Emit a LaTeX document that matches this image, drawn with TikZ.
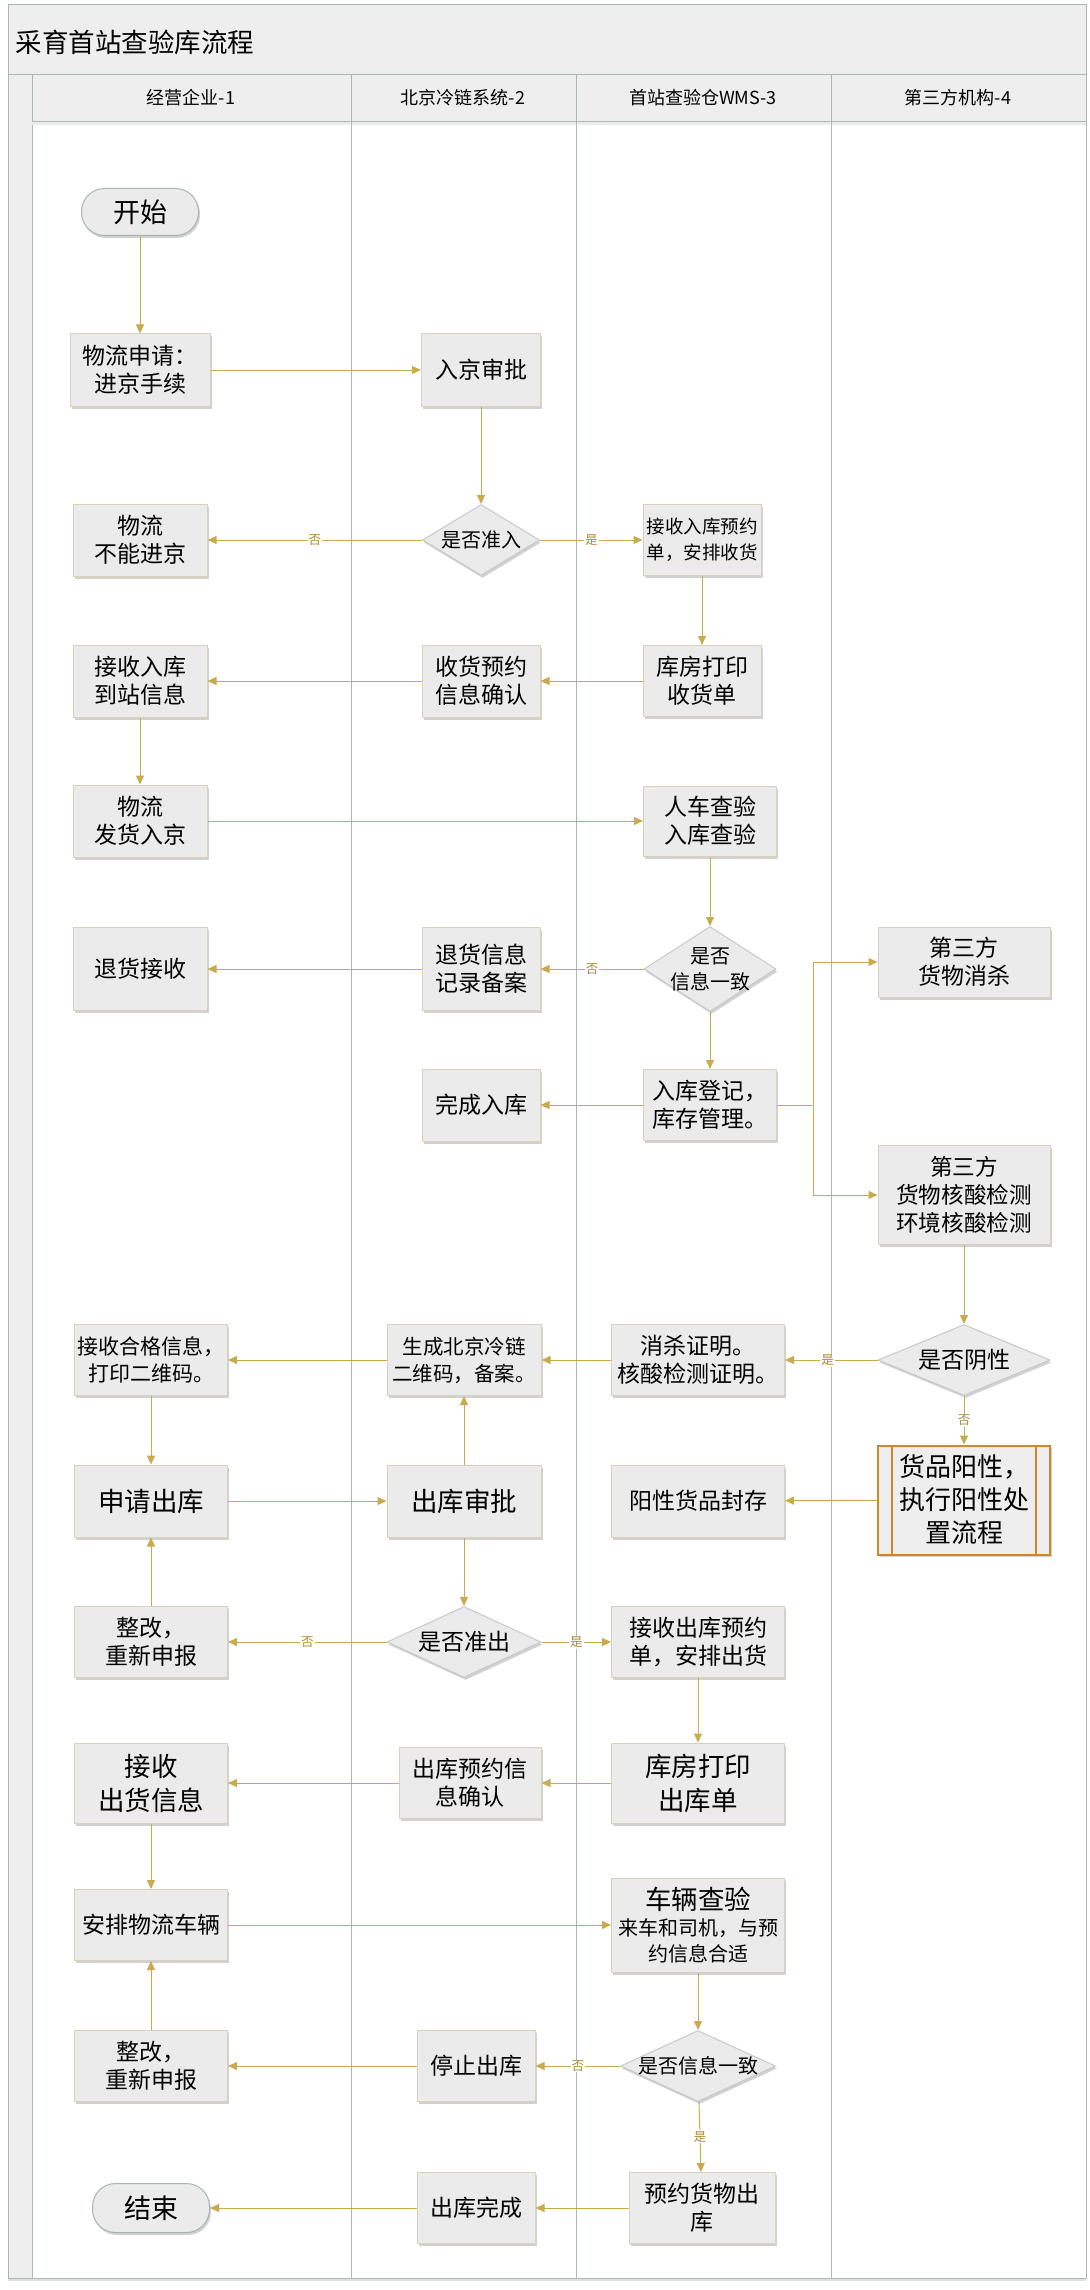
\documentclass[tikz,border=0pt]{standalone}
\usepackage{fontspec}
\setmainfont{Noto Sans CJK SC}
\usetikzlibrary{arrows.meta,shapes.geometric,shadows}

\definecolor{flowgold}{HTML}{C9AA4F}
\definecolor{lblgold}{HTML}{A88A30}
\definecolor{boxfill}{HTML}{EBEBEB}
\definecolor{boxline}{HTML}{D8D2BC}
\definecolor{dialine}{HTML}{C4CACA}
\definecolor{termline}{HTML}{A8B3B3}
\definecolor{laneline}{HTML}{A9B8B6}
\definecolor{headfill}{HTML}{EEEEEE}
\definecolor{procorange}{HTML}{D0872B}
\newcommand{\fsz}[2]{\fontsize{#1}{#2}\selectfont}

\begin{document}
\begin{tikzpicture}[x=1pt, y=-1pt, >={Triangle[length=9pt,width=8pt]},
  frame/.style={draw=laneline, line width=1pt},
  shade/.style={drop shadow={shadow xshift=1.5pt, shadow yshift=-2.5pt, fill=black, opacity=0.18}},
  box/.style={draw=boxline, fill=boxfill, line width=1pt, align=center, inner sep=2pt, font=\fsz{23}{28}, shade},
  bigbox/.style={box, font=\fsz{26.5}{34}},
  term/.style={box, draw=termline, rounded corners=23pt, font=\fsz{27}{32}},
  decision/.style={diamond, draw=dialine, fill=boxfill, line width=1pt, inner sep=0pt, shade},
  dtext/.style={align=center, font=\fsz{20}{26}},
  proc/.style={box, draw=procorange, line width=2pt, fill=headfill, font=\fsz{26}{33}},
  flow/.style={->, draw=flowgold, line width=1pt},
  lbl/.style={fill=white, text=lblgold, font=\fsz{12.5}{14}, inner sep=1pt},
  headtxt/.style={font=\fsz{18}{22}}
]
\useasboundingbox (0,0) rectangle (1089,2290);

% swimlane frame
\fill[white, drop shadow={shadow xshift=0pt, shadow yshift=-3pt, fill=black, opacity=0.12}] (8,5) rectangle (1086,2278);
\draw[frame, fill=headfill] (8,5) rectangle (1086,75);
\draw[frame, fill=headfill] (8,75) rectangle (32,2278);
\draw[frame, fill=headfill] (32,75) rectangle (1086,122);
\draw[black!8, line width=3pt] (32,124) -- (1086,124);
\foreach \x in {351,576,831}
  \draw[frame] (\x,75) -- (\x,2278);
\draw[frame] (8,5) rectangle (1086,2278);

\node[anchor=west, font=\fsz{26.5}{30}] (title) at (12,42) {采育首站查验库流程};
\node[headtxt] (h1) at (191,98) {经营企业-1};
\node[headtxt] (h2) at (463,98) {北京冷链系统-2};
\node[headtxt] (h3) at (703,98) {首站查验仓WMS-3};
\node[headtxt] (h4) at (958,98) {第三方机构-4};

% lane 1
\node[term, minimum width=117pt, minimum height=47pt] (start) at (140,212) {开始};
\node[box, minimum width=140pt, minimum height=72pt] (wlsq) at (140,370) {物流申请：\\进京手续};
\node[box, minimum width=134pt, minimum height=72pt] (bnjj) at (140,540) {物流\\不能进京};
\node[box, minimum width=134pt, minimum height=72pt] (jsrk) at (140,681) {接收入库\\到站信息};
\node[box, minimum width=134pt, minimum height=72pt] (fhrj) at (140,821) {物流\\发货入京};
\node[box, minimum width=134pt, minimum height=83pt] (thjs) at (140,969) {退货接收};
\node[box, minimum width=153pt, minimum height=71pt, font=\fsz{21}{27}] (jshg) at (151,1360) {接收合格信息，\\打印二维码。};
\node[bigbox, minimum width=153pt, minimum height=72pt] (sqck) at (151,1501) {申请出库};
\node[box, minimum width=153pt, minimum height=71pt] (zg1) at (151,1642) {整改，\\重新申报};
\node[bigbox, minimum width=153pt, minimum height=80pt] (jsch) at (151,1783) {接收\\出货信息};
\node[box, minimum width=153pt, minimum height=71pt] (apcl) at (151,1925) {安排物流车辆};
\node[box, minimum width=153pt, minimum height=71pt] (zg2) at (151,2066) {整改，\\重新申报};
\node[term, minimum width=117pt, minimum height=49pt] (end) at (151,2208) {结束};

% lane 2
\node[box, minimum width=119pt, minimum height=72pt] (rjsp) at (481,370) {入京审批};
\node[decision, minimum width=117pt, minimum height=71pt, label={[dtext]center:是否准入}] (szr) at (481,540) {};
\node[box, minimum width=118pt, minimum height=72pt] (shyy) at (481,681) {收货预约\\信息确认};
\node[box, minimum width=118pt, minimum height=83pt] (thxx) at (481,969) {退货信息\\记录备案};
\node[box, minimum width=118pt, minimum height=72pt] (wcrk) at (481,1105) {完成入库};
\node[box, minimum width=154pt, minimum height=71pt, font=\fsz{20.5}{27}] (scew) at (464,1360) {生成北京冷链\\二维码，备案。};
\node[bigbox, minimum width=154pt, minimum height=72pt] (cksp) at (464,1501) {出库审批};
\node[decision, minimum width=154pt, minimum height=71pt, label={[dtext, font=\fsz{23}{28}]center:是否准出}] (szc) at (464,1642) {};
\node[box, minimum width=142pt, minimum height=71pt] (ckyy) at (470,1783) {出库预约信\\息确认};
\node[box, minimum width=118pt, minimum height=71pt] (tzck) at (476,2066) {停止出库};
\node[box, minimum width=118pt, minimum height=71pt] (ckwc) at (476,2208) {出库完成};

% lane 3
\node[box, minimum width=118pt, minimum height=71pt, font=\fsz{18.5}{26}] (jsyy) at (702,540) {接收入库预约\\单，安排收货};
\node[box, minimum width=118pt, minimum height=71pt] (kfdy) at (702,681) {库房打印\\收货单};
\node[box, minimum width=133pt, minimum height=70pt] (rccy) at (710,821) {人车查验\\入库查验};
\node[decision, minimum width=132pt, minimum height=85pt, label={[dtext]center:是否\\信息一致}] (sfyz) at (710,969) {};
\node[box, minimum width=133pt, minimum height=71pt] (rkdj) at (710,1105) {入库登记，\\库存管理。};
\node[box, minimum width=173pt, minimum height=71pt] (xszm) at (698,1360) {消杀证明。\\核酸检测证明。};
\node[box, minimum width=173pt, minimum height=72pt] (yxfc) at (698,1501) {阳性货品封存};
\node[box, minimum width=173pt, minimum height=71pt] (jsck) at (698,1642) {接收出库预约\\单，安排出货};
\node[bigbox, minimum width=173pt, minimum height=80pt] (kfck) at (698,1783) {库房打印\\出库单};
\node[box, minimum width=173pt, minimum height=94pt, font=\fsz{20}{26}] (clcy) at (698,1925) {{\fsz{26.5}{32}车辆查验}\\来车和司机，与预\\约信息合适};
\node[decision, minimum width=155pt, minimum height=71pt, label={[dtext]center:是否信息一致}] (sfyz2) at (698,2066) {};
\node[box, minimum width=146pt, minimum height=71pt] (yyhw) at (702,2208) {预约货物出\\库};

% lane 4
\node[box, minimum width=172pt, minimum height=70pt] (dsfxs) at (964,962) {第三方\\货物消杀};
\node[box, minimum width=172pt, minimum height=99pt, font=\fsz{22.6}{28}] (dsfhs) at (964,1195) {第三方\\货物核酸检测\\环境核酸检测};
\node[decision, minimum width=172pt, minimum height=71pt, label={[dtext, font=\fsz{23}{28}]center:是否阴性}] (sfyx) at (964,1360) {};
\node[proc, minimum width=172pt, minimum height=109pt] (hpyx) at (964,1500) {货品阳性，\\执行阳性处\\置流程};
\draw[procorange, line width=2pt] ([xshift=15pt]hpyx.north west) -- ([xshift=15pt]hpyx.south west);
\draw[procorange, line width=2pt] ([xshift=-15pt]hpyx.north east) -- ([xshift=-15pt]hpyx.south east);

\coordinate (split) at (813,1105);

% connectors
\draw[flow] (start) -- (wlsq);
\draw[flow] (wlsq) -- (rjsp);
\draw[flow] (rjsp) -- (szr);
\draw[flow] (szr) -- node[lbl] {否} (bnjj);
\draw[flow] (szr) -- node[lbl] {是} (jsyy);
\draw[flow] (jsyy) -- (kfdy);
\draw[flow] (kfdy) -- (shyy);
\draw[flow] (shyy) -- (jsrk);
\draw[flow] (jsrk) -- (fhrj);
\draw[flow] (fhrj) -- (rccy);
\draw[flow] (rccy) -- (sfyz);
\draw[flow] (sfyz) -- node[lbl] {否} (thxx);
\draw[flow] (thxx) -- (thjs);
\draw[flow] (sfyz) -- (rkdj);
\draw[flow] (rkdj) -- (wcrk);
\draw[flow] (rkdj) -- (split) |- (dsfxs);
\draw[flow] (split) |- (dsfhs);
\draw[flow] (dsfhs) -- (sfyx);
\draw[flow] (sfyx) -- node[lbl, pos=0.54] {是} (xszm);
\draw[flow] (sfyx) -- node[lbl] {否} (hpyx);
\draw[flow] (hpyx) -- (yxfc);
\draw[flow] (xszm) -- (scew);
\draw[flow] (scew) -- (jshg);
\draw[flow] (jshg) -- (sqck);
\draw[flow] (sqck) -- (cksp);
\draw[flow] (cksp) -- (scew);
\draw[flow] (cksp) -- (szc);
\draw[flow] (szc) -- node[lbl] {否} (zg1);
\draw[flow] (zg1) -- (sqck);
\draw[flow] (szc) -- node[lbl] {是} (jsck);
\draw[flow] (jsck) -- (kfck);
\draw[flow] (kfck) -- (ckyy);
\draw[flow] (ckyy) -- (jsch);
\draw[flow] (jsch) -- (apcl);
\draw[flow] (apcl) -- (clcy);
\draw[flow] (clcy) -- (sfyz2);
\draw[flow] (sfyz2) -- node[lbl] {否} (tzck);
\draw[flow] (tzck) -- (zg2);
\draw[flow] (zg2) -- (apcl);
\draw[flow] (sfyz2) -- node[lbl] {是} (yyhw);
\draw[flow] (yyhw) -- (ckwc);
\draw[flow] (ckwc) -- (end);
\end{tikzpicture}
\end{document}
